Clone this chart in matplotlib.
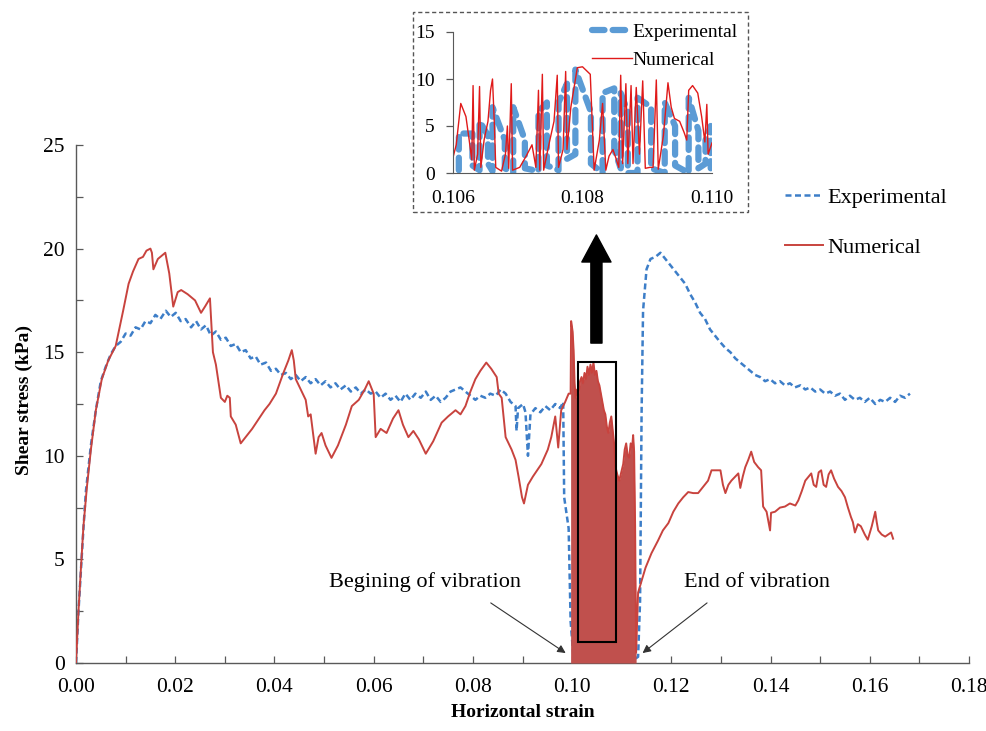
import numpy as np
import matplotlib
matplotlib.use('Agg')
import matplotlib.pyplot as plt
from matplotlib.patches import Rectangle, FancyArrowPatch
from matplotlib.ticker import MultipleLocator, FormatStrFormatter

plt.rcParams['font.family'] = ['Liberation Serif', 'DejaVu Serif']

# ================= Data =================
# Experimental shear stress vs horizontal strain
exp_x = [0.0000, 0.0005, 0.0010, 0.0015, 0.0020, 0.0030, 0.0040, 0.0050, 0.0060, 0.0070,
         0.0080, 0.0090, 0.0100, 0.0110, 0.0120, 0.0130, 0.0140, 0.0150, 0.0160, 0.0170,
         0.0181, 0.0191, 0.0201, 0.0211, 0.0221, 0.0232, 0.0242, 0.0252, 0.0262, 0.0272,
         0.0282, 0.0292, 0.0302, 0.0312, 0.0322, 0.0332, 0.0342, 0.0352, 0.0362, 0.0372,
         0.0383, 0.0393, 0.0403, 0.0413, 0.0423, 0.0433, 0.0443, 0.0453, 0.0463, 0.0473,
         0.0483, 0.0493, 0.0503, 0.0513, 0.0523, 0.0533, 0.0544, 0.0554, 0.0564, 0.0574,
         0.0584, 0.0594, 0.0604, 0.0614, 0.0624, 0.0634, 0.0644, 0.0654, 0.0664, 0.0674,
         0.0684, 0.0695, 0.0705, 0.0715, 0.0725, 0.0735, 0.0745, 0.0755, 0.0765, 0.0775,
         0.0785, 0.0795, 0.0805, 0.0815, 0.0825, 0.0835, 0.0846, 0.0856, 0.0866, 0.0876,
         0.0886, 0.0888, 0.0891, 0.0901, 0.0906, 0.0911, 0.0916, 0.0926, 0.0936, 0.0946,
         0.0956, 0.0966, 0.0976, 0.0982, 0.0984, 0.0993, 0.0997, 0.1003, 0.1007, 0.1027,
         0.1047, 0.1067, 0.1087, 0.1092, 0.1097, 0.1107, 0.1117, 0.1127, 0.1133, 0.1137,
         0.1140, 0.1143, 0.1150, 0.1158, 0.1168, 0.1178, 0.1188, 0.1198, 0.1208, 0.1218,
         0.1228, 0.1238, 0.1248, 0.1258, 0.1268, 0.1278, 0.1288, 0.1298, 0.1309, 0.1319,
         0.1329, 0.1339, 0.1349, 0.1359, 0.1369, 0.1379, 0.1389, 0.1399, 0.1409, 0.1419,
         0.1429, 0.1439, 0.1449, 0.1460, 0.1470, 0.1480, 0.1490, 0.1500, 0.1510, 0.1520,
         0.1530, 0.1540, 0.1550, 0.1560, 0.1570, 0.1580, 0.1590, 0.1600, 0.1611, 0.1621,
         0.1631, 0.1641, 0.1651, 0.1661, 0.1671, 0.1681]
exp_y = [0.0, 2.5, 4.5, 6.5, 8.3, 10.5, 12.2, 13.6, 14.3, 14.9,
         15.3, 15.5, 15.9, 15.8, 16.2, 16.1, 16.5, 16.4, 16.8, 16.6,
         17.0, 16.7, 16.9, 16.5, 16.6, 16.2, 16.5, 16.1, 16.3, 15.8,
         16.0, 15.6, 15.7, 15.3, 15.4, 15.0, 15.1, 14.7, 14.8, 14.4,
         14.5, 14.1, 14.2, 13.9, 14.0, 13.7, 13.9, 13.6, 13.8, 13.5,
         13.7, 13.4, 13.6, 13.3, 13.5, 13.2, 13.4, 13.1, 13.3, 13.0,
         13.2, 13.0, 13.1, 12.8, 13.0, 12.7, 12.9, 12.6, 13.0, 12.7,
         13.0, 12.8, 13.1, 12.7, 12.9, 12.6, 12.8, 13.1, 13.2, 13.3,
         13.1, 12.9, 12.7, 12.9, 12.8, 13.0, 12.9, 13.2, 13.0, 12.6,
         12.4, 11.2, 12.3, 12.5, 12.1, 10.0, 12.0, 12.3, 12.1, 12.4,
         12.2, 12.5, 12.3, 12.6, 8.0, 6.5, 2.0, 0.2, 0.0, 0.1,
         0.0, 0.2, 0.1, 0.6, 0.2, 0.5, 0.3, 0.2, 0.3, 3.0,
         12.0, 17.0, 19.0, 19.5, 19.6, 19.8, 19.5, 19.2, 18.9, 18.6,
         18.3, 17.8, 17.4, 16.9, 16.6, 16.1, 15.8, 15.5, 15.2, 15.0,
         14.7, 14.5, 14.3, 14.1, 13.9, 13.8, 13.6, 13.7, 13.5, 13.6,
         13.4, 13.5, 13.3, 13.4, 13.2, 13.3, 13.1, 13.2, 13.0, 13.1,
         12.9, 13.0, 12.7, 12.9, 12.7, 12.8, 12.6, 12.8, 12.5, 12.7,
         12.6, 12.8, 12.6, 12.9, 12.8, 13.0]

# Numerical: before vibration
num_pre_x = [0.0000, 0.0005, 0.0010, 0.0015, 0.0022, 0.0030, 0.0040, 0.0052, 0.0065, 0.0080,
             0.0095, 0.0106, 0.0115, 0.0126, 0.0135, 0.0142, 0.0150, 0.0153, 0.0156, 0.0165,
             0.0180, 0.0188, 0.0196, 0.0205, 0.0212, 0.0225, 0.0240, 0.0246, 0.0252, 0.0260,
             0.0270, 0.0276, 0.0282, 0.0292, 0.0300, 0.0305, 0.0310, 0.0312, 0.0322, 0.0332,
             0.0345, 0.0355, 0.0366, 0.0380, 0.0390, 0.0403, 0.0418, 0.0428, 0.0435, 0.0439,
             0.0443, 0.0453, 0.0463, 0.0468, 0.0473, 0.0483, 0.0489, 0.0495, 0.0503, 0.0515,
             0.0528, 0.0544, 0.0556, 0.0570, 0.0582, 0.0590, 0.0600, 0.0604, 0.0614, 0.0626,
             0.0639, 0.0650, 0.0659, 0.0670, 0.0680, 0.0691, 0.0705, 0.0720, 0.0737, 0.0750,
             0.0765, 0.0775, 0.0785, 0.0795, 0.0805, 0.0815, 0.0827, 0.0837, 0.0848, 0.0852,
             0.0858, 0.0866, 0.0872, 0.0878, 0.0886, 0.0892, 0.0899, 0.0903, 0.0911, 0.0921,
             0.0938, 0.0951, 0.0958, 0.0966, 0.0972, 0.0978, 0.0986, 0.0993, 0.0997]
num_pre_y = [0.0, 2.5, 4.6, 6.6, 8.5, 10.3, 12.2, 13.7, 14.6, 15.3,
             17.0, 18.3, 18.9, 19.5, 19.6, 19.9, 20.0, 19.8, 19.0, 19.5,
             19.8, 18.8, 17.2, 17.9, 18.0, 17.8, 17.5, 17.2, 16.9, 17.2,
             17.6, 15.0, 14.4, 12.8, 12.6, 12.9, 12.8, 11.9, 11.5, 10.6,
             11.0, 11.3, 11.7, 12.2, 12.5, 13.0, 14.0, 14.6, 15.1, 14.6,
             13.7, 13.2, 12.7, 11.9, 12.0, 10.1, 10.9, 11.1, 10.5, 9.9,
             10.5, 11.5, 12.4, 12.7, 13.2, 13.6, 13.0, 10.9, 11.3, 11.1,
             11.8, 12.2, 11.5, 10.9, 11.2, 10.8, 10.1, 10.7, 11.6, 11.9,
             12.2, 12.0, 12.4, 13.1, 13.7, 14.1, 14.5, 14.2, 13.8, 13.0,
             12.8, 10.9, 10.6, 10.3, 9.8, 9.0, 8.0, 7.7, 8.6, 9.0,
             9.6, 10.3, 10.9, 11.9, 10.4, 12.2, 12.6, 13.0, 13.0]

# Numerical: upper envelope of the vibration stage (filled)
vib_x = [0.0997, 0.0998, 0.1001, 0.1003, 0.1005, 0.1007, 0.1010, 0.1013, 0.1016, 0.1019,
         0.1022, 0.1025, 0.1028, 0.1031, 0.1034, 0.1037, 0.1040, 0.1043, 0.1046, 0.1049,
         0.1052, 0.1055, 0.1058, 0.1061, 0.1064, 0.1067, 0.1070, 0.1073, 0.1076, 0.1079,
         0.1082, 0.1085, 0.1087, 0.1091, 0.1095, 0.1099, 0.1103, 0.1106, 0.1109, 0.1112,
         0.1115, 0.1118, 0.1121, 0.1123, 0.1125, 0.1127, 0.1129]
vib_top = [13.0, 16.5, 16.0, 15.1, 13.5, 12.8, 13.2, 13.0, 13.6, 13.8,
           13.5, 14.0, 13.7, 14.3, 13.9, 14.4, 14.0, 14.5, 13.9, 14.1,
           13.6, 13.4, 13.0, 12.6, 12.2, 12.0, 11.4, 11.1, 11.6, 11.9,
           11.2, 10.5, 9.5, 9.1, 8.8, 9.2, 9.6, 10.3, 10.6, 10.0,
           9.9, 10.6, 10.4, 11.0, 10.2, 6.6, 0.5]

# Numerical: after vibration
num_post_x = [0.1129, 0.1133, 0.1148, 0.1160, 0.1173, 0.1183, 0.1194, 0.1204, 0.1214, 0.1224,
              0.1234, 0.1244, 0.1254, 0.1264, 0.1274, 0.1281, 0.1288, 0.1299, 0.1304, 0.1309,
              0.1315, 0.1321, 0.1329, 0.1335, 0.1339, 0.1344, 0.1349, 0.1355, 0.1361, 0.1367,
              0.1375, 0.1381, 0.1385, 0.1392, 0.1399, 0.1401, 0.1409, 0.1419, 0.1429, 0.1439,
              0.1450, 0.1456, 0.1463, 0.1470, 0.1482, 0.1487, 0.1492, 0.1497, 0.1502, 0.1507,
              0.1512, 0.1517, 0.1522, 0.1528, 0.1536, 0.1543, 0.1550, 0.1556, 0.1562, 0.1566,
              0.1570, 0.1576, 0.1582, 0.1590, 0.1596, 0.1604, 0.1611, 0.1614, 0.1617, 0.1624,
              0.1631, 0.1637, 0.1643, 0.1647]
num_post_y = [0.5, 3.4, 4.6, 5.3, 5.9, 6.4, 6.75, 7.3, 7.7, 8.0,
              8.25, 8.2, 8.2, 8.5, 8.8, 9.3, 9.3, 9.3, 8.6, 8.2,
              8.6, 8.8, 9.0, 9.15, 8.45, 9.0, 9.45, 9.8, 10.2, 9.7,
              9.45, 9.3, 7.55, 7.3, 6.4, 7.25, 7.3, 7.5, 7.55, 7.7,
              7.6, 7.85, 8.3, 8.8, 9.15, 8.6, 8.5, 9.2, 9.3, 8.6,
              8.5, 9.1, 9.3, 8.9, 8.5, 8.3, 8.0, 7.5, 7.05, 6.8,
              6.3, 6.7, 6.6, 6.2, 5.95, 6.6, 7.3, 6.8, 6.4, 6.2,
              6.1, 6.2, 6.3, 6.0]

# Inset (zoom of 0.106-0.110): experimental oscillation extremes
ins_exp_x = [0.10609, 0.10630, 0.10641, 0.10654, 0.10661, 0.10680, 0.10693, 0.10711, 0.10732,
             0.10745, 0.10763, 0.10776, 0.10789, 0.10813, 0.10831, 0.10849, 0.10859, 0.10870,
             0.10885, 0.10906, 0.10927, 0.10943, 0.10964, 0.10979, 0.10990, 0.10998]
ins_exp_lo = [0.3, 0.8, 0.3, 1.0, 0.2, 0.5, 0.0, 0.5, 0.2, 0.8, 0.3, 1.5, 2.0, 1.0,
              0.0, 2.5, 0.5, 0.0, 0.0, 0.5, 0.0, 0.8, 0.0, 0.5, 1.0, 0.5]
ins_exp_hi = [4.2, 4.2, 5.5, 4.0, 7.0, 3.5, 7.0, 3.5, 6.5, 7.5, 7.5, 9.5, 11.0, 6.5,
              8.5, 9.0, 8.5, 6.5, 8.0, 7.0, 7.5, 5.0, 8.0, 4.5, 3.5, 5.0]

# Inset: numerical trace
ins_num_x = [0.10595, 0.10605, 0.10612, 0.10620, 0.10625, 0.10629, 0.10631, 0.10633, 0.10638,
             0.10641, 0.10643, 0.10648, 0.10654, 0.10658, 0.10661, 0.10664, 0.10666, 0.10675,
             0.10681, 0.10684, 0.10686, 0.10690, 0.10692, 0.10703, 0.10713, 0.10722, 0.10728,
             0.10732, 0.10734, 0.10738, 0.10740, 0.10748, 0.10756, 0.10761, 0.10763, 0.10770,
             0.10774, 0.10776, 0.10782, 0.10792, 0.10800, 0.10812, 0.10818, 0.10826, 0.10831,
             0.10836, 0.10841, 0.10847, 0.10852, 0.10856, 0.10859, 0.10862, 0.10867, 0.10870,
             0.10875, 0.10878, 0.10883, 0.10888, 0.10893, 0.10897, 0.10904, 0.10909, 0.10914,
             0.10917, 0.10925, 0.10932, 0.10937, 0.10942, 0.10950, 0.10957, 0.10961, 0.10964,
             0.10970, 0.10978, 0.10984, 0.10989, 0.10992, 0.10994, 0.11000]
ins_num_y = [0.3, 3.0, 7.4, 6.0, 3.5, 1.4, 9.3, 0.3, 2.0,
             9.2, 0.6, 3.5, 5.5, 8.8, 10.0, 5.0, 0.6, 0.2,
             2.0, 5.0, 0.5, 9.5, 0.3, 0.6, 1.8, 3.0, 0.6,
             8.8, 0.3, 10.5, 0.3, 3.0, 5.5, 10.4, 0.6, 2.5,
             10.8, 2.5, 7.0, 11.2, 11.3, 10.5, 0.3, 3.5, 7.4,
             0.3, 1.8, 2.5, 1.5, 0.6, 10.4, 1.0, 9.5, 1.0,
             9.3, 1.0, 9.1, 2.0, 9.8, 0.5, 0.6, 0.6, 9.9,
             0.4, 4.0, 9.6, 7.0, 5.8, 5.5, 4.3, 3.5, 8.8,
             9.3, 8.5, 6.0, 3.3, 7.3, 2.0, 3.2]

# ================= Style =================
c_exp = '#3d7ec8'
c_num = '#c8433e'
c_fill = '#c0504d'
c_exp_in = '#5b9bd5'
c_num_in = '#e01a1a'
spine_c = '#595959'

fig = plt.figure(figsize=(9.87, 7.31), dpi=100)
ax = fig.add_axes([76 / 987, 1 - 663 / 731, 893 / 987, 518 / 731])

ax.plot(exp_x, exp_y, color=c_exp, lw=1.8, linestyle=(0, (2.4, 1.4)), label='Experimental', zorder=2)
num_x = num_pre_x + vib_x + num_post_x
num_y = num_pre_y + vib_top + num_post_y
ax.fill_between(vib_x, 0, vib_top, color=c_fill, lw=0, zorder=3)
ax.plot(num_x, num_y, color=c_num, lw=1.4, label='Numerical', zorder=3)

ax.set_xlim(0, 0.18)
ax.set_ylim(0, 25)
ax.xaxis.set_major_locator(MultipleLocator(0.02))
ax.xaxis.set_minor_locator(MultipleLocator(0.01))
ax.yaxis.set_major_locator(MultipleLocator(5))
ax.yaxis.set_minor_locator(MultipleLocator(2.5))
ax.xaxis.set_major_formatter(FormatStrFormatter('%.2f'))
for s in ['top', 'right']:
    ax.spines[s].set_visible(False)
for s in ['left', 'bottom']:
    ax.spines[s].set_color(spine_c)
    ax.spines[s].set_linewidth(1.0)
ax.tick_params(which='both', direction='in', length=5, width=0.9, color=spine_c, labelsize=15.5)
ax.tick_params(axis='x', pad=11)
ax.tick_params(axis='y', pad=8)

ax.set_xlabel('Horizontal strain', fontsize=14, fontweight='bold')
ax.set_ylabel('Shear stress (kPa)', fontsize=14, fontweight='bold')
ax.xaxis.set_label_coords(0.5, -0.079)
ax.yaxis.set_label_coords(-0.048, 0.508)

# box around the vibration zone
ax.add_patch(Rectangle((0.1011, 1.0), 0.0078, 13.55, fill=False, ec='black', lw=1.5, zorder=4))

# big arrow up to the inset
big = FancyArrowPatch((0.1049, 15.44), (0.1049, 20.66),
                      arrowstyle='simple,head_length=1.95,head_width=2.1,tail_width=0.8',
                      mutation_scale=10, color='black', shrinkA=0, shrinkB=0, zorder=5)
ax.add_patch(big)

# annotations
ax.text(0.0703, 3.9, 'Begining of vibration', fontsize=16, ha='center', va='center')
ax.text(0.1373, 3.9, 'End of vibration', fontsize=16, ha='center', va='center')
ax.annotate('', xy=(0.0987, 0.48), xytext=(0.0836, 2.9),
            arrowprops=dict(arrowstyle='-|>', color='#333333', lw=0.8, mutation_scale=12,
                            shrinkA=0, shrinkB=0))
ax.annotate('', xy=(0.1142, 0.48), xytext=(0.1272, 2.9),
            arrowprops=dict(arrowstyle='-|>', color='#333333', lw=0.8, mutation_scale=12,
                            shrinkA=0, shrinkB=0))

ax.legend(loc='upper left', bbox_to_anchor=(785 / 987, 1 - 187 / 731),
          bbox_transform=fig.transFigure, frameon=False, fontsize=16,
          handlelength=1.7, handletextpad=0.2, labelspacing=1.33,
          borderpad=0, borderaxespad=0)

# ================= Inset =================
fig.patches.append(Rectangle((413 / 987, 1 - 212 / 731), 335 / 987, 200 / 731,
                             transform=fig.transFigure, fill=False, ec='#555555', lw=1.0,
                             linestyle=(0, (3, 2))))
axi = fig.add_axes([453 / 987, 1 - 173 / 731, 259 / 987, 141 / 731])
pairs = np.column_stack([ins_exp_lo, ins_exp_hi])
pairs[1::2] = pairs[1::2, ::-1]          # alternate up / down strokes
zx = np.repeat(ins_exp_x, 2)
zy = pairs.ravel()
axi.plot(zx, zy, color=c_exp_in, lw=4.5, linestyle=(0, (2.0, 1.3)), dash_capstyle='round',
         label='Experimental')
axi.plot(ins_num_x, ins_num_y, color=c_num_in, lw=1.0, label='Numerical')
axi.set_xlim(0.106, 0.110)
axi.set_ylim(0, 15)
axi.set_xticks([0.106, 0.108, 0.110])
axi.set_yticks([0, 5, 10, 15])
axi.xaxis.set_major_formatter(FormatStrFormatter('%.3f'))
for s in ['top', 'right']:
    axi.spines[s].set_visible(False)
for s in ['left', 'bottom']:
    axi.spines[s].set_color(spine_c)
axi.tick_params(axis='y', direction='out', length=5, width=0.9, color=spine_c, labelsize=14, pad=8)
axi.tick_params(axis='x', length=0, labelsize=14, pad=12)
axi.patch.set_alpha(0)
axi.legend(loc='upper left', bbox_to_anchor=(592 / 987, 1 - 23 / 731),
           bbox_transform=fig.transFigure, frameon=False, fontsize=14,
           handlelength=2.05, handletextpad=0.05, labelspacing=0.56,
           borderpad=0, borderaxespad=0)

fig.savefig('out.png', dpi=100)
